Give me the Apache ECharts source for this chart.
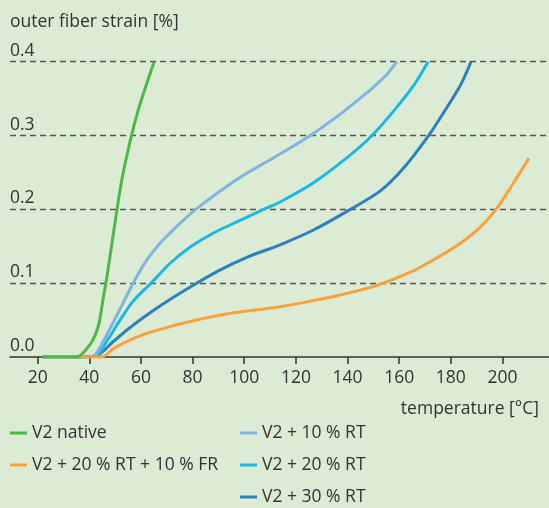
<!DOCTYPE html>
<html>
<head>
<meta charset="utf-8">
<script src="https://cdn.jsdelivr.net/npm/echarts@6/dist/echarts.min.js"></script>
<style>
html,body{margin:0;padding:0;background:#dbebd4;}
#c{width:549px;height:508px;}
</style>
</head>
<body>
<div id="c"></div>
<script>
// ---- data (temperature °C, outer fiber strain %) ----
const seriesNames = ['V2 native', 'V2 + 20 % RT + 10 % FR', 'V2 + 10 % RT', 'V2 + 20 % RT', 'V2 + 30 % RT'];
const xTicks = [20, 40, 60, 80, 100, 120, 140, 160, 180, 200];
const yTicks = [0, 0.1, 0.2, 0.3, 0.4];

const v2Native = [[22,0],[30,0],[35.1,0],[40.3,0.017],[43.5,0.042],[45.4,0.08],[46.7,0.106],[48.7,0.152],[50.6,0.197],[52.6,0.240],[55.8,0.292],[59.0,0.335],[62.2,0.370],[65.1,0.4]];
const v2RtFr = [[23,0],[35,0],[44.8,0],[49.3,0.011],[54.5,0.021],[62.2,0.032],[70.0,0.040],[79.0,0.048],[88.1,0.055],[95.8,0.060],[104.9,0.064],[113.9,0.068],[121.7,0.073],[137.2,0.084],[151.4,0.097],[165.6,0.117],[172.0,0.129],[182.4,0.151],[191.4,0.176],[197.9,0.202],[204.3,0.236],[210.2,0.269]];
const v2Rt10 = [[22,0],[35,0],[41.5,0.001],[44.1,0.013],[49.3,0.047],[54.5,0.083],[58.4,0.109],[62.2,0.131],[67.4,0.154],[71.3,0.168],[75.1,0.181],[81.6,0.201],[98.3,0.243],[113.9,0.275],[125.6,0.300],[137.2,0.329],[143.6,0.347],[149.5,0.364],[155.3,0.383],[159.1,0.4]];
const v2Rt20 = [[22,0],[35,0],[42.2,0.001],[46.7,0.021],[51.9,0.050],[57.1,0.076],[64.2,0.101],[71.3,0.127],[79.1,0.149],[88.1,0.168],[98.4,0.185],[106.9,0.199],[113.9,0.210],[126.8,0.236],[139.8,0.270],[149.5,0.3],[157.8,0.333],[165.6,0.368],[171.2,0.4]];
const v2Rt30 = [[22,0],[35,0],[42.2,0.001],[49.3,0.021],[55.8,0.040],[64.8,0.063],[72.6,0.081],[81.6,0.1],[90.7,0.118],[101.0,0.135],[113.9,0.152],[126.8,0.172],[141.1,0.2],[152.7,0.225],[161.7,0.256],[171.4,0.3],[177.2,0.331],[183.7,0.368],[187.8,0.4]];

const colors = ['#4cb848', '#f9a13a', '#7db4e2', '#1ab8e6', '#2b7fc3'];
const allData = [v2Native, v2RtFr, v2Rt10, v2Rt20, v2Rt30];

const font = 'Open Sans';
const fs = 17.5;
const txt = '#333333';

const chart = echarts.init(document.getElementById('c'), null, {renderer: 'canvas'});
chart.setOption({
  backgroundColor: '#dbebd4',
  animation: false,
  color: colors,
  textStyle: {fontFamily: font, color: txt},
  title: [{
    text: 'temperature [°C]',
    right: 5, top: 395,
    textStyle: {fontFamily: font, fontSize: fs, fontWeight: 'normal', color: txt}
  }],
  grid: {left: 10, right: 0, top: 61.7, bottom: 151, containLabel: false},
  xAxis: {
    type: 'value', min: 9.3, max: 218,
    axisLine: {show: true, lineStyle: {color: '#333', width: 1.5}},
    axisTick: {show: true, length: 7, inside: false, customValues: xTicks, lineStyle: {color: '#333', width: 1.5}},
    axisLabel: {customValues: xTicks, margin: 12, fontSize: fs, color: txt, fontFamily: font},
    splitLine: {show: false}
  },
  yAxis: {
    type: 'value', min: 0, max: 0.4, interval: 0.1,
    name: 'outer fiber strain [%]',
    nameLocation: 'end', nameGap: 40,
    nameTextStyle: {align: 'left', verticalAlign: 'middle', fontSize: fs, color: txt, fontFamily: font},
    axisLine: {show: false},
    axisTick: {show: false},
    axisLabel: {inside: true, margin: 0, align: 'left', verticalAlign: 'bottom', padding: [0,0,2,0],
      fontSize: fs, color: txt, fontFamily: font, formatter: v => v.toFixed(1)},
    splitLine: {show: true, showMinLine: false, lineStyle: {color: '#555', width: 1.3, type: [6, 4]}}
  },
  legend: [{
    orient: 'vertical', left: 10, top: 423, itemGap: 12, padding: 0, height: 90,
    itemWidth: 17, itemHeight: 3, icon: 'rect',
    textStyle: {fontSize: fs, color: txt, fontFamily: font, lineHeight: 20},
    data: [seriesNames[0], seriesNames[1]]
  }, {
    orient: 'vertical', left: 240, top: 423, itemGap: 12, padding: 0, height: 90,
    itemWidth: 17, itemHeight: 3, icon: 'rect',
    textStyle: {fontSize: fs, color: txt, fontFamily: font, lineHeight: 20},
    data: [seriesNames[2], seriesNames[3], seriesNames[4]]
  }],
  series: allData.map((d, i) => ({
    name: seriesNames[i],
    type: 'line',
    data: d,
    smooth: 0.3,
    showSymbol: false,
    symbol: 'none',
    z: 5 - i,
    lineStyle: {width: 3, color: colors[i]},
    itemStyle: {color: colors[i]}
  }))
});
</script>
</body>
</html>
